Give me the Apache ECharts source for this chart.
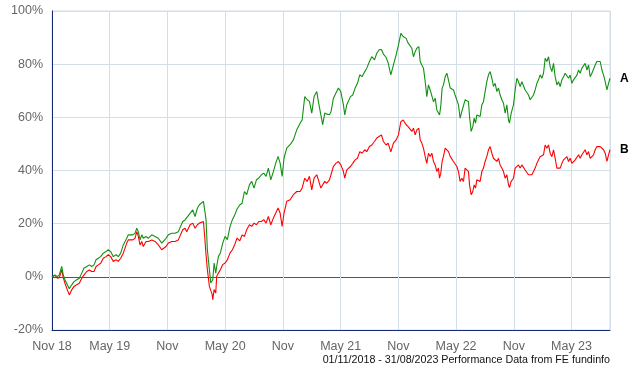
<!DOCTYPE html>
<html>
<head>
<meta charset="utf-8">
<script src="https://cdn.jsdelivr.net/npm/echarts@6/dist/echarts.min.js"></script>
<style>
html,body{margin:0;padding:0;background:#fff;}
#c{width:640px;height:370px;}
</style>
</head>
<body>
<div id="c"></div>
<script>
// x values: months elapsed since 01/11/2018
const months = [
0,0.31,0.55,0.76,1.01,1.17,1.35,1.59,1.8,2.05,2.29,2.57,2.84,3.09,3.33,3.61,3.88,4.13,4.37,4.58,4.81,5.06,5.33,5.62,5.85,6.1,6.37,6.65,6.89,7.14,7.41,7.77,7.93,8.11,8.39,8.63,8.81,8.97,9.15,9.33,9.49,9.77,10.01,10.37,10.71,11.05,11.41,11.57,11.85,12.09,12.45,12.79,13.13,13.31,13.59,13.83,14.01,14.35,14.63,14.87,15.11,15.32,
15.49,15.74,15.87,16.01,16.15,16.36,16.5,16.64,16.71,16.85,17.02,17.12,17.3,17.5,17.75,17.99,18.23,18.51,18.75,18.99,19.24,19.51,19.76,20,20.24,20.52,20.76,21,21.25,21.49,21.77,22.01,22.25,22.49,22.74,23.01,23.26,23.5,23.71,23.92,24.12,24.4,24.75,25.09,25.44,
25.79,26,26.27,26.52,26.76,27,27.24,27.52,27.69,27.94,28.14,28.35,28.56,28.84,29.01,29.25,29.5,29.77,30.02,30.29,30.43,30.64,31.02,31.26,31.51,31.75,31.99,32.23,32.51,32.72,33,33.24,33.52,33.76,34,34.24,34.45,34.73,34.94,35.22,35.49,35.77,36.01,36.26,36.5,36.81,37.02,
37.4,37.57,37.75,37.92,38.13,38.27,38.44,38.61,38.79,38.96,39.13,39.31,39.48,39.65,39.83,40,40.17,40.28,40.41,40.55,40.69,40.87,41.04,41.21,41.39,41.56,41.73,41.9,42.08,42.25,42.42,42.6,42.77,42.94,43.12,43.29,43.4,43.57,43.74,43.88,44.02,44.16,44.33,44.5,44.68,44.85,45.02,45.2,45.37,45.54,45.72,45.89,46.06,46.24,46.41,46.58,46.76,46.93,47.1,47.28,47.45,47.55,47.73,47.97,
48.14,48.32,48.49,48.66,48.84,49.01,49.18,49.36,49.53,49.7,49.88,50.05,50.22,50.4,50.57,50.74,50.92,51.09,51.26,51.44,51.61,51.78,51.96,52.13,52.3,52.48,52.65,52.82,53,53.17,53.34,53.52,53.69,53.86,54.04,54.21,54.38,54.56,54.73,54.9,55.08,55.25,55.42,55.6,55.77,55.94,56.12,56.29,56.46,56.64,56.81,56.98,57.16,57.33,57.5,57.68,57.85,58
];

// Fund A (green), cumulative performance %
const fundA = [
0,0.75,0.1,0.75,3.9,0.75,-1.1,-3,-4.5,-3,-1.8,-1.1,-0.5,1.4,3.3,3.9,4.5,3.9,4.5,6.4,7,7.6,8.9,9.5,10.2,9.5,7.6,8.3,7.6,8.9,12,14.5,15.8,15.2,15.8,16.4,18.3,17,13.9,15.8,14.5,15.2,14.5,15.8,15.2,14.5,12.7,13.3,14.5,15.8,16.4,16.4,17,16.4,20.8,21.4,20.8,23.9,25.2,22.7,25.8,27.1,
26.5,28.4,25.2,21.5,10.2,2.7,-2.3,-2.9,-1.1,5.2,1.4,3.9,7.7,9,12.7,15.2,14,19,21.5,23.3,25.5,27,27.7,32.1,30.9,34.6,35.9,33.4,36.5,37.1,38.4,39,37.8,40.9,36.5,39.6,42.8,45.3,42.8,37.8,44.7,48.4,49.7,51.5,55.3,
57.8,59,67.8,66.6,66,61.6,67.8,69.7,65.9,61,57.2,61.6,61.2,61,62.2,67.2,69.1,71,69.7,64.7,60.9,64.7,67.8,68.4,71,72.8,76,75.3,77.2,78.5,81,82.8,81.6,84.1,85.4,85.5,83.8,82.5,80.5,76,79.7,83.5,87.2,91.6,90.4,89.7,87.9,
86,82.8,84.7,86,86.6,81,79.7,78.5,73.5,67.8,72.2,70.3,69.7,65.9,67.2,62.8,63.4,60.9,64.1,71,72.2,75.3,76.6,74.1,71,71.6,70.3,68.4,67.8,64.7,59.7,62.2,61.6,66.6,67.2,65.9,60.3,54.7,56.5,59.7,57.8,60.9,61.6,60.3,64.7,65.9,69.7,73.5,76,77.2,74.7,71.6,72.8,69.7,71,68.4,66.6,65.3,61.6,64.7,59,57.8,61.6,64.7,
70.3,74.7,73.4,71.6,73.4,73.4,70.3,69.7,68.4,66.6,67.2,68.4,70.3,72.8,74.1,76,74.7,76.6,82.2,81,82.8,79.1,77.2,80.3,75.3,72.2,73.4,71.6,74.1,75.3,76.6,77.2,74.7,75.9,72.8,74.1,74.7,75.9,77.8,76.6,78.5,79.1,80.3,77.8,79.7,75.3,76.6,77.2,79.7,81,80.3,81,77.8,75.9,73.4,70.3,72.8,74.7
];

// Fund B (red), cumulative performance %
const fundB = [
0,0.5,-0.5,-0.3,2.6,-0.3,-2.4,-4.9,-6.8,-4.9,-3.6,-3,-2.4,-0.5,0.75,2,2.6,2,2,3.9,4.5,5.1,7,7.6,8.3,7.6,5.8,6.4,5.8,7,8.9,12.7,13.9,13.3,13.9,14.5,17,15.2,12,13.3,11.4,13.3,13.3,13.9,13.3,12,10.2,9.5,11.4,12.7,13.3,13.3,13.9,13.9,17.7,18.3,17,19.6,20.2,18.3,19.6,20.2,
20.2,20.8,15.2,8.3,2.7,-3.6,-5.1,-6.5,-8.6,-4.8,-6.1,0.2,1.4,2.7,4.6,5.2,6.4,9,10.2,12.1,14.6,13.5,15.8,15.2,17.7,19.6,19,20.2,19.6,20.8,20.8,21.5,20.2,22.7,19.6,22.1,24,25.9,24,19,24,28.4,29,30.9,32.1,
32.1,33.4,37.1,35.9,37.8,32.7,37.1,38.4,36.5,33.4,32.7,35.9,35.2,36.5,37.1,41.5,42.7,43.4,42.1,39.6,37.1,40.2,41.5,42.7,44,44.6,47.1,46.5,47.8,47.1,49,49.6,50.9,52.2,52.8,53.4,50.9,49.6,50.3,47,50.3,51.5,53.4,58.4,59,57.2,56.5,
54.7,55.9,53.4,55.3,55.9,51.5,50.3,48.4,45.3,42.7,46.5,45.3,46.5,43.4,42.1,39.6,40.9,37.1,39,43.4,45.3,48.4,49,47.1,45.3,44.6,43.4,43.4,41.5,39.6,35.9,37.1,35.9,40.9,41.5,39.6,34.6,30.9,32.1,34.6,33.4,36.5,37.1,35.9,39.6,40.9,43.4,45.3,47.8,49,46.5,44.6,45.3,43.4,44.6,42.1,40.9,39.6,37.1,38.4,34.6,33.6,35.9,37.1,
40.9,41.5,42.1,40.9,42.1,41.5,40.2,39.6,38.4,37.7,38.4,39.6,40.9,42.7,44,45.2,44.6,45.9,49.6,48.4,49.6,46.5,45.2,47.8,44.6,40.9,41.5,40.9,42.7,44,44.6,45.2,43.4,44.6,42.7,43.4,44,44.6,45.9,44.6,45.9,46.5,47.8,45.9,47.1,44.6,45.2,45.9,47.8,49,49.6,49,48.4,47.8,46.5,43.4,45.9,47.8
];

const seriesNames = ['A', 'B'];
const xTickLabels = ['Nov 18','May 19','Nov','May 20','Nov','May 21','Nov','May 22','Nov','May 23'];
const yTicks = [-20, 0, 20, 40, 60, 80, 100];
const footerText = '01/11/2018 - 31/08/2023 Performance Data from FE fundinfo';

const gridColor = '#d2dee8';
const navy = '#132a78';
const font = '"Liberation Sans", Arial, sans-serif';

const chart = echarts.init(document.getElementById('c'), null, {renderer: 'canvas'});
chart.setOption({
  animation: false,
  backgroundColor: '#fff',
  title: {
    text: footerText,
    right: 30,
    top: 355,
    textStyle: {fontFamily: font, fontSize: 10.7, fontWeight: 'normal', color: '#111'},
    padding: 0
  },
  grid: {left: 52, right: 30, top: 11, bottom: 40, show: true, borderColor: gridColor, borderWidth: 1, backgroundColor: 'transparent'},
  xAxis: {
    type: 'value',
    min: 0,
    max: 58,
    interval: 6,
    axisLine: {show: true, onZero: false, lineStyle: {color: navy, width: 1}},
    axisTick: {show: false},
    axisLabel: {
      fontFamily: font, fontSize: 12.5, color: '#666', margin: 10,
      showMaxLabel: false,
      formatter: v => (v % 6 === 0 ? (xTickLabels[v / 6] || '') : '')
    },
    splitLine: {show: true, lineStyle: {color: gridColor, width: 1}}
  },
  yAxis: {
    type: 'value',
    min: yTicks[0],
    max: yTicks[yTicks.length - 1],
    interval: 20,
    axisLine: {show: true, lineStyle: {color: navy, width: 1}},
    axisTick: {show: false},
    axisLabel: {fontFamily: font, fontSize: 12.5, color: '#666', margin: 9, formatter: '{value}%'},
    splitLine: {show: true, lineStyle: {color: [gridColor, '#555555', gridColor, gridColor, gridColor, gridColor, gridColor], width: 1}}
  },
  series: [
    {
      name: seriesNames[0],
      type: 'line',
      data: months.map((m, i) => [m, fundA[i]]),
      showSymbol: false,
      symbol: 'none',
      lineStyle: {color: '#129112', width: 1.1},
      itemStyle: {color: '#129112'},
      z: 3,
      endLabel: {show: true, formatter: seriesNames[0], distance: 10, fontFamily: font, fontSize: 12, fontWeight: 'bold', color: '#000'}
    },
    {
      name: seriesNames[1],
      type: 'line',
      data: months.map((m, i) => [m, fundB[i]]),
      showSymbol: false,
      symbol: 'none',
      lineStyle: {color: '#ff0000', width: 1.1},
      itemStyle: {color: '#ff0000'},
      z: 2,
      endLabel: {show: true, formatter: seriesNames[1], distance: 10, fontFamily: font, fontSize: 12, fontWeight: 'bold', color: '#000'}
    }
  ]
});
</script>
</body>
</html>
